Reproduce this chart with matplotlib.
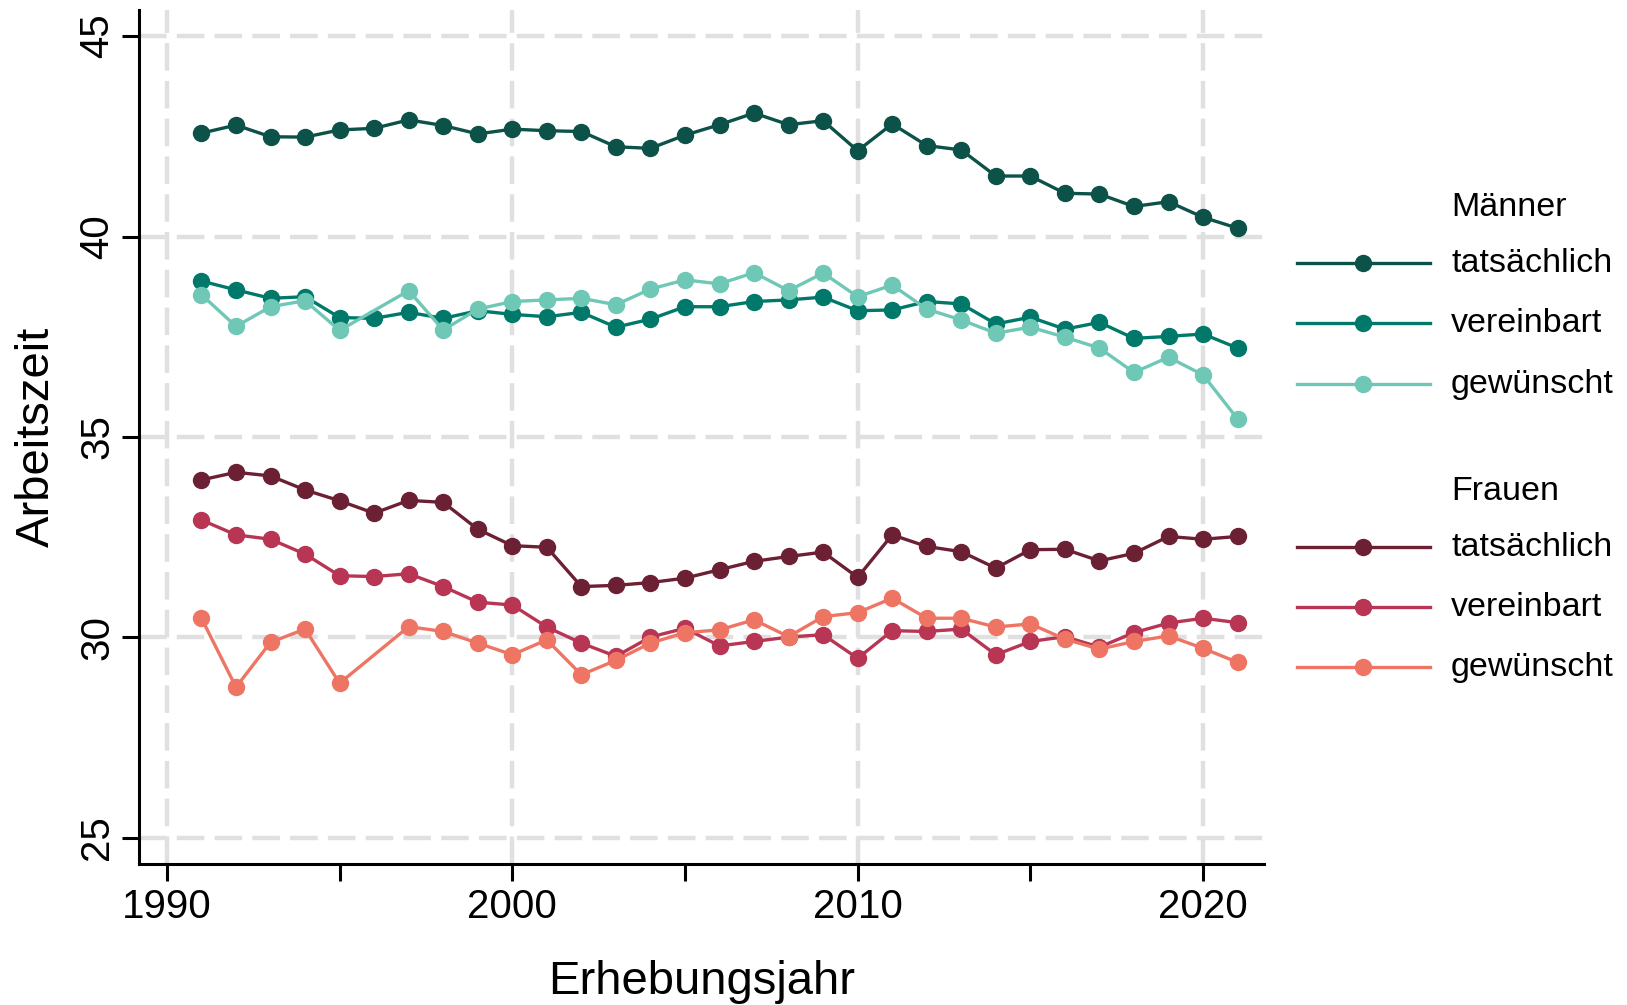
import numpy as np
import matplotlib

matplotlib.use("Agg")
import matplotlib.pyplot as plt  # noqa: E402
from matplotlib.lines import Line2D  # noqa: E402

plt.rcParams["font.family"] = ["Liberation Sans", "DejaVu Sans"]

nan = np.nan
years = list(range(1991, 2022))

# Männer
m_tats = [42.58, 42.78, 42.49, 42.48, 42.66, 42.70, 42.91, 42.77, 42.56, 42.68,
          42.64, 42.62, 42.24, 42.20, 42.53, 42.79, 43.08, 42.79, 42.89, 42.14,
          42.81, 42.27, 42.16, 41.51, 41.51, 41.08, 41.06, 40.75, 40.87, 40.48, 40.21]
m_ver = [38.89, 38.67, 38.46, 38.50, 37.98, 37.96, 38.11, 37.96, 38.15, 38.06,
         38.00, 38.11, 37.74, 37.94, 38.25, 38.25, 38.38, 38.42, 38.49, 38.15,
         38.17, 38.38, 38.32, 37.82, 37.99, 37.69, 37.86, 37.46, 37.51, 37.57, 37.22]
m_gew = [38.55, 37.76, 38.25, 38.40, 37.66, nan, 38.65, 37.67, 38.19, 38.38,
         38.42, 38.46, 38.30, 38.69, 38.92, 38.82, 39.10, 38.65, 39.09, 38.50,
         38.79, 38.19, 37.92, 37.59, 37.74, 37.49, 37.22, 36.61, 36.99, 36.55, 35.45]

# Frauen
f_tats = [33.93, 34.12, 34.03, 33.68, 33.41, 33.10, 33.42, 33.37, 32.70, 32.29,
          32.25, 31.27, 31.30, 31.37, 31.48, 31.69, 31.90, 32.02, 32.13, 31.50,
          32.56, 32.27, 32.14, 31.73, 32.19, 32.20, 31.91, 32.10, 32.52, 32.45, 32.52]
f_ver = [32.93, 32.56, 32.45, 32.08, 31.54, 31.52, 31.59, 31.27, 30.88, 30.81,
         30.26, 29.86, 29.53, 30.01, 30.23, 29.79, 29.90, 30.01, 30.07, 29.48,
         30.17, 30.15, 30.21, 29.57, 29.90, 30.02, 29.76, 30.12, 30.36, 30.48, 30.37]
f_gew = [30.48, 28.76, 29.88, 30.21, 28.86, nan, 30.27, 30.15, 29.86, 29.57,
         29.94, 29.07, 29.43, 29.86, 30.12, 30.19, 30.44, 30.02, 30.52, 30.62,
         30.98, 30.48, 30.48, 30.26, 30.34, 29.96, 29.71, 29.90, 30.04, 29.73, 29.38]

series_labels = ["tatsächlich", "vereinbart", "gewünscht"]
men_colors = ["#0c5248", "#00796b", "#6ec8b5"]
women_colors = ["#6c2034", "#b83554", "#ee7563"]

x_ticks = [1990, 2000, 2010, 2020]
x_minor = [1995, 2005, 2015]
y_ticks = [25, 30, 35, 40, 45]

fig = plt.figure(figsize=(16.27, 10.05), dpi=100)
ax = fig.add_axes([0.0854, 0.1403, 0.6916, 0.8497])

grid_kw = dict(color="#e0e0e0", lw=3.2, ls=(0, (6.2, 2.3)), zorder=0)
for yv in y_ticks:
    ax.axhline(yv, **grid_kw)
for xv in x_ticks:
    ax.axvline(xv, **grid_kw)

line_kw = dict(lw=2.4, marker="o", ms=11.5, zorder=3)
for vals, col in zip([m_tats, m_ver, m_gew], men_colors):
    y = np.array(vals, dtype=float)
    ok = ~np.isnan(y)
    ax.plot(np.array(years)[ok], y[ok], color=col, **line_kw)
for vals, col in zip([f_tats, f_ver, f_gew], women_colors):
    y = np.array(vals, dtype=float)
    ok = ~np.isnan(y)
    ax.plot(np.array(years)[ok], y[ok], color=col, **line_kw)

ax.set_xlim(1989.19, 2021.77)
ax.set_ylim(24.35, 45.65)
ax.set_xticks(x_ticks + x_minor)
ax.set_xticklabels([str(v) for v in x_ticks] + [""] * len(x_minor))
ax.set_yticks(y_ticks)
ax.set_yticklabels([str(v) for v in y_ticks], rotation=90, va="center")

for s in ["top", "right"]:
    ax.spines[s].set_visible(False)
for s in ["left", "bottom"]:
    ax.spines[s].set_linewidth(2.2)
ax.tick_params(axis="both", length=12.5, width=2.2, labelsize=29)
ax.tick_params(axis="x", pad=5)
ax.tick_params(axis="y", pad=4)

ax.set_xlabel("Erhebungsjahr", fontsize=34, labelpad=24)
ax.set_ylabel("Arbeitszeit", fontsize=34, labelpad=14)

# legend drawn by hand (Stata style with group headings)
W, H = 1627, 1005


def fx(px):
    return px / W


def fy(py):
    return 1 - py / H


leg_fs = 24.5
text_x = 1451
line_x0, line_x1, mark_x = 1297, 1430, 1363
groups = [("Männer", 207, [263, 323, 384], men_colors),
          ("Frauen", 491, [547, 607, 667], women_colors)]
for head, hy, rows, cols in groups:
    fig.text(fx(text_x), fy(hy), head, fontsize=leg_fs, va="center", ha="left")
    for lab, ry, col in zip(series_labels, rows, cols):
        fig.add_artist(Line2D([fx(line_x0), fx(line_x1)], [fy(ry), fy(ry)],
                              transform=fig.transFigure, color=col, lw=2.4))
        fig.add_artist(Line2D([fx(mark_x)], [fy(ry)], transform=fig.transFigure,
                              color=col, marker="o", ms=11.5, ls="none"))
        fig.text(fx(text_x), fy(ry), lab, fontsize=leg_fs, va="center", ha="left")

fig.savefig("out.png", dpi=100)
